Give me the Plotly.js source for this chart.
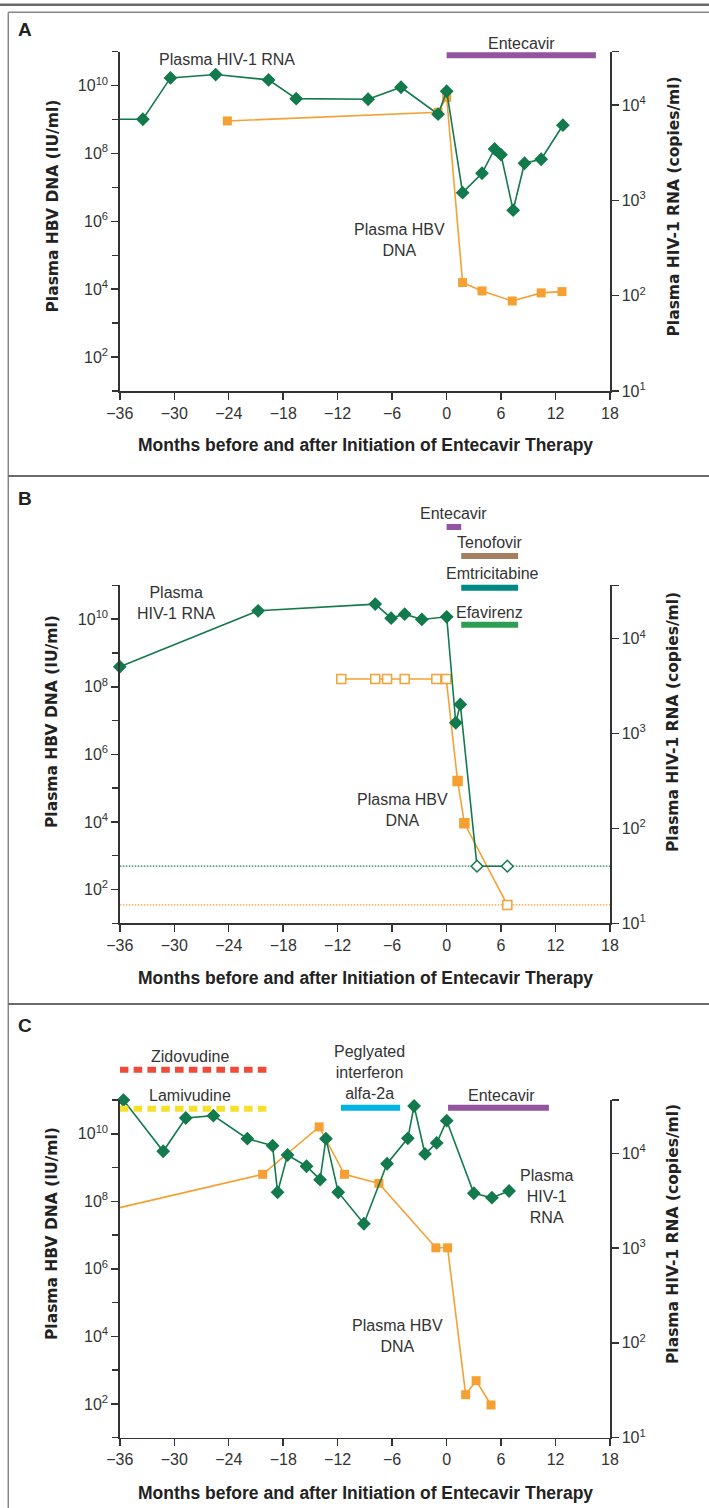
<!DOCTYPE html>
<html><head><meta charset="utf-8">
<script src="https://cdn.plot.ly/plotly-3.0.1.min.js"></script>
<style>html,body{margin:0;padding:0;background:#fff}#chart{width:709px;height:1508px}</style>
</head><body><div id="chart"></div>
<script>
// ---------------- DATA ----------------
const xRange = [-36, 18];
// Panel A
const monthsA_HIV = [-36, -33.46, -30.42, -25.44, -19.61, -16.57, -8.65, -5.02, -0.94, 0.01, 1.76, 3.9, 5.29, 5.99, 7.33, 8.58, 10.42, 12.81];
const hivA = [7130, 7130, 19360, 20990, 18450, 11720, 11560, 15450, 8050, 14030, 1208, 1932, 3476, 3027, 791, 2460, 2710, 6170];
const monthsA_HBV = [-24.15, -0.94, 0.01, 1.76, 3.9, 7.23, 10.42, 12.71];
const hbvA = [9.1e8, 1.64e9, 4.5e9, 1.57e4, 8.9e3, 4.5e3, 7.8e3, 8.5e3];
const drugsA = ['Entecavir'];
const drugStartA = [0];
const drugEndA = [16.45];
// Panel B
const monthsB_HIV = [-36, -20.76, -7.86, -6.11, -4.62, -2.73, 0.01, 1.01, 1.51, 3.35, 6.69];
const hivB = [5060, 19680, 23180, 16480, 18150, 15960, 17020, 1300, 2030, 40, 40];
const hivB_belowLimit = [false, false, false, false, false, false, false, false, false, true, true];
const monthsB_HBV = [-11.6, -7.86, -6.56, -4.62, -1.13, -0.04, 1.21, 1.96, 6.69];
const hbvB = [1.7e8, 1.7e8, 1.7e8, 1.7e8, 1.7e8, 1.7e8, 1.63e5, 9.1e3, 35];
const hbvB_outOfRange = [true, true, true, true, true, true, false, false, true];
const hivLimitB = 40;   // copies/ml
const hbvLimitB = 35;   // IU/ml
const drugsB = ['Entecavir', 'Tenofovir', 'Emtricitabine', 'Efavirenz'];
const drugStartB = [0, 1.61, 1.61, 1.61];
const drugEndB = [1.61, 7.88, 7.88, 7.88];
// Panel C
const monthsC_HIV = [-35.6, -31.22, -28.73, -25.69, -21.95, -19.17, -18.62, -17.52, -15.43, -13.94, -13.29, -11.94, -9.11, -6.56, -4.27, -3.58, -2.38, -1.09, 0.01, 3.0, 4.99, 6.88];
const hivC = [36400, 10500, 23560, 24950, 14260, 12020, 3880, 9590, 7300, 5270, 14260, 3880, 1807, 7760, 14390, 31550, 9840, 12850, 22080, 3790, 3400, 4000];
const monthsC_HBV = [-36, -20.26, -14.04, -11.25, -7.46, -1.18, 0.11, 2.1, 3.25, 4.89];
const hbvC = [6.5e7, 6.3e8, 1.6e10, 6.3e8, 3.4e8, 4.2e6, 4.2e6, 188, 488, 93];
const drugsC = ['Zidovudine', 'Lamivudine', 'Peglyated<br>interferon<br>alfa-2a', 'Entecavir'];
const drugStartC = [-36, -36, -11.64, 0.16];
const drugEndC = [-19.66, -19.66, -5.12, 11.27];
const leftMajorTicks = [1e2, 1e4, 1e6, 1e8, 1e10];
const leftMajorText = ['10<sup>2</sup>', '10<sup>4</sup>', '10<sup>6</sup>', '10<sup>8</sup>', '10<sup>10</sup>'];
const leftMinorTicks = [1e1, 1e3, 1e5, 1e7, 1e9, 1e11];
const rightTop = Math.pow(10, 4.562);
const rightTicks = [1e1, 1e2, 1e3, 1e4];
const rightTickText = ['10<sup>1</sup>', '10<sup>2</sup>', '10<sup>3</sup>', '10<sup>4</sup>'];
const rightMinorTicks = [rightTop];

// ---------------- LAYOUT HELPERS ----------------
const W = 709, H = 1508;
const px = v => v / W, py = v => 1 - v / H;
const xDom = [px(119.8), px(610)];
const panelsPx = [{top: 51.7, bottom: 391}, {top: 585.4, bottom: 923.3}, {top: 1100, bottom: 1437.7}];
const GREEN = '#127a4c', ORANGE = '#f6a033', TXT = '#333333', AX = '#333333';
const REG = 'Liberation Sans, Arial, sans-serif';
const tickFont = {family: REG, size: 16, color: TXT};

const layout = {
  width: W, height: H, margin: {l: 0, r: 0, t: 0, b: 0},
  paper_bgcolor: '#ffffff', plot_bgcolor: 'rgba(0,0,0,0)', showlegend: false,
  font: {family: REG, color: TXT},
  shapes: [], annotations: []
};
panelsPx.forEach((p, i) => {
  const xa = i === 0 ? 'xaxis' : 'xaxis' + (i + 1);
  const yl = 2 * i + 1, yr = 2 * i + 2;
  const ylName = yl === 1 ? 'yaxis' : 'yaxis' + yl;
  const yDom = [py(p.bottom), py(p.top)];
  const common = {showline: true, linecolor: AX, linewidth: 1.5, ticks: 'outside', tickwidth: 1.5, tickcolor: AX,
    showgrid: false, zeroline: false, tickfont: tickFont, fixedrange: true};
  const minorStyle = {ticks: 'outside', ticklen: 6, tickwidth: 1.5, tickcolor: AX, showgrid: false, tickmode: 'array'};
  layout[xa] = Object.assign({}, common, {domain: xDom, range: xRange, anchor: yl === 1 ? 'y' : 'y' + yl,
    tickmode: 'linear', tick0: 0, dtick: 6, ticklen: 7});
  layout[ylName] = Object.assign({}, common, {domain: yDom, type: 'log', range: [1, 11], anchor: i === 0 ? 'x' : 'x' + (i + 1),
    tickmode: 'array', tickvals: leftMajorTicks, ticktext: leftMajorText, ticklen: 7,
    minor: Object.assign({}, minorStyle, {tickvals: leftMinorTicks})});
  layout['yaxis' + yr] = Object.assign({}, common, {domain: yDom, type: 'log', range: [1, 4.562], side: 'right',
    overlaying: yl === 1 ? 'y' : 'y' + yl, anchor: i === 0 ? 'x' : 'x' + (i + 1),
    tickmode: 'array', tickvals: rightTicks, ticktext: rightTickText, ticklen: 7,
    minor: Object.assign({}, minorStyle, {tickvals: rightMinorTicks, ticklen: 7})});
});

// ---------------- TRACES ----------------
const traces = [];
function hivTrace(x, y, i, hollow, sizes) {
  return {x: x, y: y, type: 'scatter', mode: 'lines+markers', xaxis: i === 0 ? 'x' : 'x' + (i + 1), yaxis: 'y' + (2 * i + 2),
    line: {color: GREEN, width: 1.6}, cliponaxis: false,
    marker: {symbol: 'diamond', size: sizes || 9, opacity: 1, color: hollow ? hollow.map(h => h ? '#ffffff' : GREEN) : GREEN,
      line: {color: GREEN, width: 1.5}}};
}
function hbvTrace(x, y, i, hollow, sizes) {
  return {x: x, y: y, type: 'scatter', mode: 'lines+markers', xaxis: i === 0 ? 'x' : 'x' + (i + 1), yaxis: i === 0 ? 'y' : 'y' + (2 * i + 1),
    line: {color: ORANGE, width: 1.6}, cliponaxis: false,
    marker: {symbol: 'square', size: sizes || 9, opacity: 1, color: hollow ? hollow.map(h => h ? '#ffffff' : ORANGE) : ORANGE,
      line: {color: ORANGE, width: hollow ? 1.5 : 0}}};
}
// detection-limit lines (panel B)
traces.push({x: xRange, y: [hivLimitB, hivLimitB], type: 'scatter', mode: 'lines', xaxis: 'x2', yaxis: 'y4',
  line: {color: GREEN, width: 1.3, dash: '1.5px,1.5px'}});
traces.push({x: xRange, y: [hbvLimitB, hbvLimitB], type: 'scatter', mode: 'lines', xaxis: 'x2', yaxis: 'y3',
  line: {color: ORANGE, width: 1.3, dash: '1.5px,1.5px'}});
traces.push(hbvTrace(monthsA_HBV, hbvA, 0));
traces.push(hivTrace(monthsA_HIV, hivA, 0, null, monthsA_HIV.map((m, k) => k === 0 ? 0 : 9)));
traces.push(hbvTrace(monthsB_HBV, hbvB, 1, hbvB_outOfRange));
traces.push(hivTrace(monthsB_HIV, hivB, 1, hivB_belowLimit));
traces.push(hbvTrace(monthsC_HBV, hbvC, 2, null, monthsC_HBV.map((m, k) => k === 0 ? 0 : 9)));
traces.push(hivTrace(monthsC_HIV, hivC, 2));

// ---------------- DRUG BARS ----------------
const drugStyleA = [{color: '#93559f', y: 55.3, lx: 521, ly: 43}];
const drugStyleB = [
  {color: '#93559f', y: 527, lx: 453.5, ly: 513.3},
  {color: '#a58060', y: 556, lx: 489.7, ly: 542.3},
  {color: '#008a84', y: 587.7, lx: 492, ly: 573.3},
  {color: '#2f9e55', y: 624.7, lx: 489.2, ly: 612.3}];
const drugStyleC = [
  {color: '#ef4b3a', y: 1069.7, lx: 190, ly: 1056.7, dash: '8.6px,5.2px'},
  {color: '#f7e02c', y: 1108.7, lx: 190, ly: 1095, dash: '8.6px,5.2px'},
  {color: '#00b5e5', y: 1107.7, lx: 369, ly: 1072.7},
  {color: '#93559f', y: 1107.7, lx: 501.9, ly: 1095}];
[[drugsA, drugStartA, drugEndA, drugStyleA, 'x'], [drugsB, drugStartB, drugEndB, drugStyleB, 'x2'], [drugsC, drugStartC, drugEndC, drugStyleC, 'x3']]
  .forEach(([names, s, e, st, xr]) => {
    names.forEach((n, k) => {
      layout.shapes.push({type: 'line', xref: xr, yref: 'paper', x0: s[k], x1: e[k], y0: py(st[k].y), y1: py(st[k].y),
        line: {color: st[k].color, width: 6, dash: st[k].dash || 'solid'}, layer: 'above'});
      layout.annotations.push({text: n, xref: 'paper', yref: 'paper', x: px(st[k].lx), y: py(st[k].ly),
        xanchor: 'center', yanchor: 'middle', showarrow: false, font: {family: REG, size: 16, color: TXT}});
    });
  });

// ---------------- FRAME ----------------
const frameCol = '#6b6b6b';
layout.shapes.push({type: 'line', xref: 'paper', yref: 'paper', x0: 0, x1: 1, y0: py(4.8), y1: py(4.8), line: {color: frameCol, width: 2.5}});
layout.shapes.push({type: 'line', xref: 'paper', yref: 'paper', x0: px(8.3), x1: 1.01, y0: py(12.3), y1: py(12.3), line: {color: '#888', width: 1.5}});
layout.shapes.push({type: 'line', xref: 'paper', yref: 'paper', x0: px(8.3), x1: px(8.3), y0: py(12.3), y1: 0, line: {color: '#888', width: 1.5}});
layout.shapes.push({type: 'line', xref: 'paper', yref: 'paper', x0: px(8.3), x1: 1.01, y0: py(476), y1: py(476), line: {color: frameCol, width: 2}});
layout.shapes.push({type: 'line', xref: 'paper', yref: 'paper', x0: px(8.3), x1: 1.01, y0: py(1004), y1: py(1004), line: {color: frameCol, width: 2}});

// ---------------- TEXT ----------------
function ann(text, x, y, opts) {
  layout.annotations.push(Object.assign({text: text, xref: 'paper', yref: 'paper', x: px(x), y: py(y),
    xanchor: 'center', yanchor: 'middle', showarrow: false, font: {family: REG, size: 16, color: TXT}}, opts || {}));
}
const boldPanel = {font: {family: REG, size: 19, color: '#222', weight: 'bold'}};
ann('<b>A</b>', 24.5, 30, boldPanel);
ann('<b>B</b>', 24.5, 498, boldPanel);
ann('<b>C</b>', 24.5, 1025, boldPanel);
ann('Plasma HIV-1 RNA', 227, 60);
ann('Plasma HBV<br>DNA', 399, 240);
ann('Plasma<br>HIV-1 RNA', 176, 602.7);
ann('Plasma HBV<br>DNA', 402.4, 809.7);
ann('Plasma<br>HIV-1<br>RNA', 546.2, 1196.8);
ann('Plasma HBV<br>DNA', 397.9, 1336);
const yTitleFont = {family: 'DejaVu Sans, sans-serif', size: 15.5, color: '#222'};
const xTitleFont = {family: REG, size: 17.5, color: '#222'};
const titleY = [206.5, 722, 1234];
const xTitleY = [445, 978.3, 1493.3];
titleY.forEach((ty, i) => {
  ann('<b>Plasma HBV DNA (IU/ml)</b>', 52, ty, {textangle: -90, font: yTitleFont});
  ann('<b>Plasma HIV-1 RNA (copies/ml)</b>', 673, ty, {textangle: -90, font: yTitleFont});
  ann('<b>Months before and after Initiation of Entecavir Therapy</b>', 365, xTitleY[i], {font: xTitleFont});
});

Plotly.newPlot('chart', traces, layout, {staticPlot: true, displayModeBar: false});
</script>
</body></html>
